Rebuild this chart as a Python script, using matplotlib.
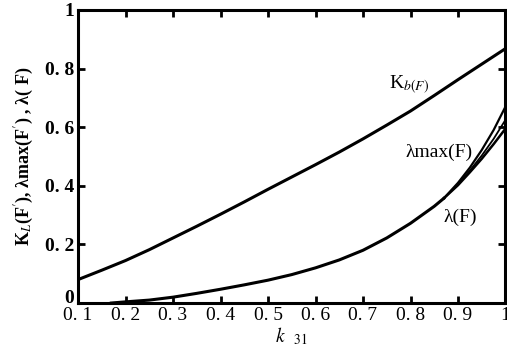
import matplotlib
matplotlib.use("Agg")
import matplotlib.pyplot as plt
import matplotlib.transforms as mtransforms

plt.rcParams['font.family'] = ['Liberation Serif', 'DejaVu Serif']
plt.rcParams['mathtext.fontset'] = 'stix'

# K_b(F) curve
k_kb = [0.1, 0.15, 0.2, 0.25, 0.3, 0.35, 0.4, 0.45, 0.5, 0.55, 0.6, 0.65,
        0.7, 0.75, 0.8, 0.85, 0.9, 0.95, 1.0]
kb = [0.08, 0.112, 0.145, 0.182, 0.222, 0.262, 0.303, 0.345, 0.388, 0.43,
      0.472, 0.515, 0.56, 0.607, 0.655, 0.708, 0.762, 0.815, 0.868]

# common lower part of lambda curves
k_low = [0.17, 0.2, 0.25, 0.3, 0.35, 0.4, 0.45, 0.5, 0.55, 0.6, 0.65, 0.7,
         0.75, 0.8, 0.85, 0.87]
lam_low = [0.0, 0.004, 0.01, 0.02, 0.033, 0.047, 0.062, 0.078, 0.097, 0.12,
           0.147, 0.18, 0.222, 0.272, 0.33, 0.357]

# branches near k=1
k_br = [0.87, 0.9, 0.925, 0.95, 0.975, 1.0]
lam_max = [0.357, 0.41, 0.462, 0.522, 0.59, 0.67]
lam_mid = [0.357, 0.405, 0.452, 0.503, 0.56, 0.625]
lam_f = [0.357, 0.402, 0.446, 0.492, 0.542, 0.595]

xticks = [0.1, 0.2, 0.3, 0.4, 0.5, 0.6, 0.7, 0.8, 0.9, 1.0]
xticklabels = ['0. 1', '0. 2', '0. 3', '0. 4', '0. 5', '0. 6', '0. 7', '0. 8', '0. 9', '1']
yticks = [0, 0.2, 0.4, 0.6, 0.8, 1.0]
yticklabels = ['0', '0. 2', '0. 4', '0. 6', '0. 8', '1']

fig = plt.figure(figsize=(5.07, 3.54), dpi=100)
ax = fig.add_axes([0.154, 0.144, 0.843, 0.828])

lw = 2.2
ax.plot(k_kb, kb, color='black', lw=lw)
ax.plot(k_low, lam_low, color='black', lw=lw)
ax.plot(k_br, lam_max, color='black', lw=1.6)
ax.plot(k_br, lam_mid, color='black', lw=1.3)
ax.plot(k_br, lam_f, color='black', lw=1.8)

ax.set_xlim(0.1, 1.0)
ax.set_ylim(0, 1.0)
ax.set_xticks(xticks)
ax.set_xticklabels(xticklabels)
ax.set_yticks(yticks)
ax.set_yticklabels(yticklabels, fontweight='bold')
ax.tick_params(direction='in', length=5, width=2, top=True, right=True,
               labelsize=14, pad=3)
for s in ax.spines.values():
    s.set_linewidth(2.2)

# nudge the y "0" label up so it clears the x labels
lbl0 = ax.get_yticklabels()[0]
lbl0.set_transform(lbl0.get_transform() +
                   mtransforms.ScaledTranslation(0, 5 / 72, fig.dpi_scale_trans))

ax.set_ylabel(r"K$_L$(F$'$), λmax(F$'$) , λ( F)", fontsize=13, fontweight='bold', labelpad=6)
ax.set_xlabel(r"$\mathbf{\mathit{k}}$  $_{\mathit{31}}$", fontsize=14, labelpad=1)

ax.text(0.755, 0.745, r"K$_{b(F)}$", fontsize=14, ha='left', va='center')
ax.text(0.79, 0.515, "λmax(F)", fontsize=14, ha='left', va='center')
ax.text(0.87, 0.293, "λ(F)", fontsize=14, ha='left', va='center')

fig.savefig('out.png', dpi=100)
